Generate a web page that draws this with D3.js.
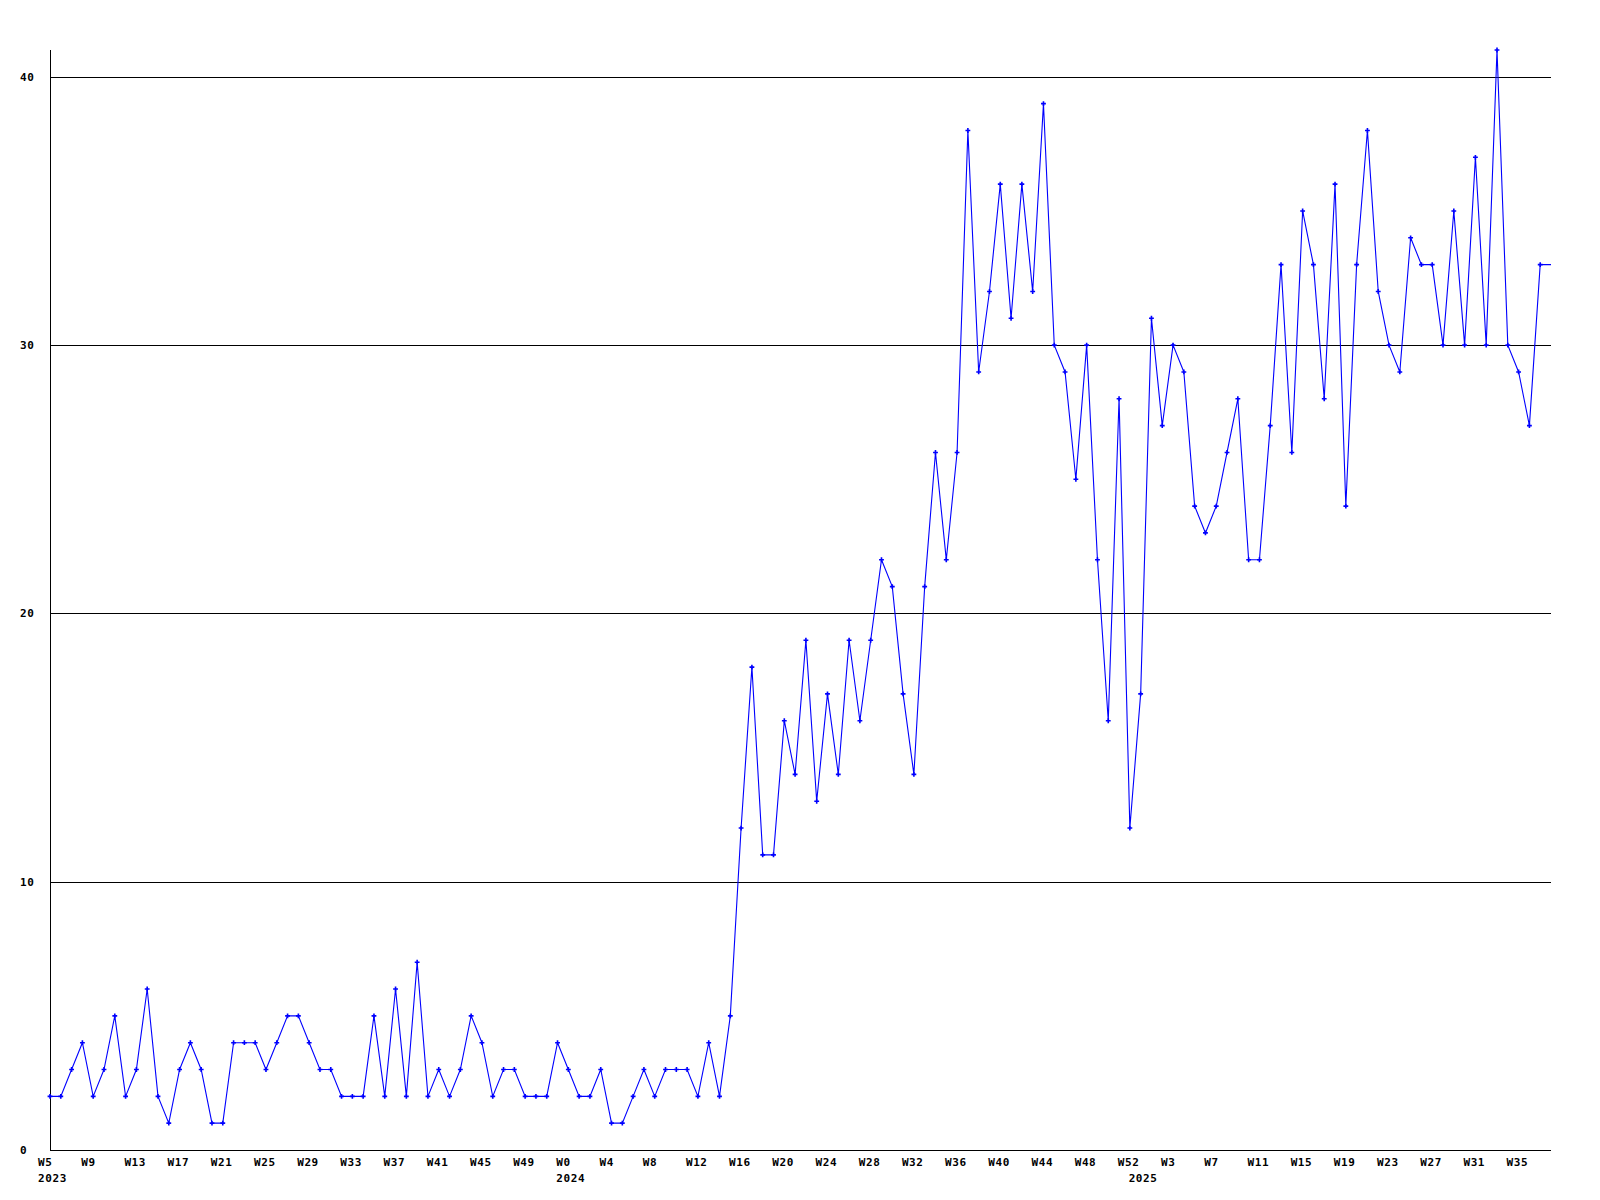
<!DOCTYPE html>
<html><head><meta charset="utf-8">
<script src="https://cdn.jsdelivr.net/npm/d3@7"></script>
<style>
body{margin:0;background:#fff}
svg{display:block}
text{font-family:"DejaVu Sans Mono",monospace;font-weight:bold;font-size:11px;letter-spacing:0.6px;fill:#000}
</style>
</head><body>
<svg id="c" width="1600" height="1200"></svg>
<script>
// weekly counts, 2023 W5 .. 2025 W36
const values = [
  2,2,3,4,2,3,5,2,3,6,
  2,1,3,4,3,1,1,4,4,4,
  3,4,5,5,4,3,3,2,2,2,
  5,2,6,2,7,2,3,2,3,5,
  4,2,3,3,2,2,2,4,3,2,
  2,3,1,1,2,3,2,3,3,3,
  2,4,2,5,12,18,11,11,16,14,
  19,13,17,14,19,16,19,22,21,17,
  14,21,26,22,26,38,29,32,36,31,
  36,32,39,30,29,25,30,22,16,28,
  12,17,31,27,30,29,24,23,24,26,
  28,22,22,27,33,26,35,33,28,36,
  24,33,38,32,30,29,34,33,33,30,
  35,30,37,30,41,30,29,27,33,33
];
const yTicks = [0, 10, 20, 30, 40];
const xTickLabels = ["W5","W9","W13","W17","W21","W25","W29","W33","W37","W41","W45","W49",
  "W0","W4","W8","W12","W16","W20","W24","W28","W32","W36","W40","W44","W48",
  "W52","W3","W7","W11","W15","W19","W23","W27","W31","W35"];
// index of the week each tick label belongs to
const xTickAt = [0,4,8,12,16,20,24,28,32,36,40,44,
  48,52,56,60,64,68,72,76,80,84,88,92,96,
  100,104,108,112,116,120,124,128,132,136];
const yearLabels = ["2023","2024","2025"];
const yearAt = [0, 48, 101];

(function () {
  const mL = 50, mR = 1551, mT = 50, mB = 1150;
  const svg = d3.select("#c");
  const x = d3.scaleLinear().domain([0, values.length - 1]).range([mL, mR]);
  const y = d3.scaleLinear().domain([0, d3.max(values)]).range([mB, mT]);

  // gridlines
  svg.append("g").selectAll("line").data(yTicks.filter(t => t > 0)).join("line")
    .attr("x1", mL).attr("x2", mR)
    .attr("y1", d => Math.round(y(d)) + 0.5).attr("y2", d => Math.round(y(d)) + 0.5)
    .attr("stroke", "#000").attr("stroke-width", 1).attr("shape-rendering", "crispEdges");

  // axis lines
  svg.append("line").attr("x1", mL + 0.5).attr("x2", mL + 0.5).attr("y1", mT).attr("y2", mB + 1)
    .attr("stroke", "#000").attr("shape-rendering", "crispEdges");
  svg.append("line").attr("x1", mL).attr("x2", mR).attr("y1", mB + 0.5).attr("y2", mB + 0.5)
    .attr("stroke", "#000").attr("shape-rendering", "crispEdges");

  // y labels
  svg.append("g").selectAll("text").data(yTicks).join("text")
    .attr("x", 20).attr("y", d => Math.round(y(d)) + 4)
    .attr("text-anchor", "start").text(d => d);

  // x labels
  svg.append("g").selectAll("text").data(xTickLabels).join("text")
    .attr("x", (d, i) => x(xTickAt[i]) - 12).attr("y", 1166)
    .attr("text-anchor", "start").text(d => d);
  svg.append("g").selectAll("text").data(yearLabels).join("text")
    .attr("x", (d, i) => x(yearAt[i]) - 12).attr("y", 1182)
    .attr("text-anchor", "start").text(d => d);

  // line
  const line = d3.line().x((d, i) => x(i)).y(d => y(d));
  svg.append("path").datum(values).attr("d", line)
    .attr("fill", "none").attr("stroke", "#0000ff").attr("stroke-width", 1.1);

  // markers
  const sym = d3.symbol(d3.symbolCross).size(13);
  svg.append("g").selectAll("path")
    .data(values.map((v, i) => [i, v]).filter(d => x(d[0]) < mR - 2)).join("path")
    .attr("transform", d => `translate(${x(d[0])},${y(d[1])})`)
    .attr("d", sym).attr("fill", "#0000ff");
})();
</script>
</body></html>
